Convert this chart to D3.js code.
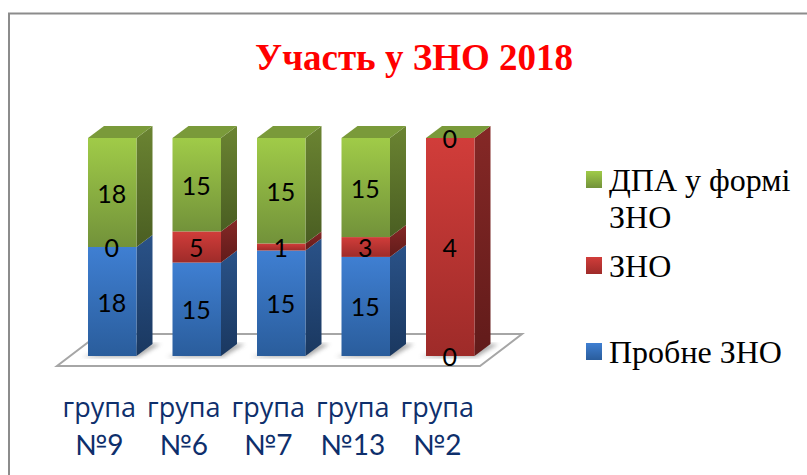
<!DOCTYPE html>
<html><head><meta charset="utf-8">
<script src="https://cdn.jsdelivr.net/npm/d3@7"></script>
<style>html,body{margin:0;padding:0;background:#fff}svg{display:block}</style>
</head><body><div id="chart"></div>
<script>
const groups = ["група №9","група №6","група №7","група №13","група №2"];
const probne = [18,15,15,15,0];
const zno = [0,5,1,3,4];
const dpa = [18,15,15,15,0];
const seriesNames = ["Пробне ЗНО","ЗНО","ДПА у формі ЗНО"];
const titleText = "Участь у ЗНО 2018";
const palette = [
  {front:["#3f7fd2","#2a5d9c"],side:["#2a5288","#1a3860"],top:"#35659f"},
  {front:["#d13d3a","#9e2b29"],side:["#852826","#611b1a"],top:"#a83230"},
  {front:["#a0cb48","#72923a"],side:["#6b8432","#4a5e22"],top:"#7a9a3a"}
];
const W=807,H=475,dx=16,dy=-12;
const svg=d3.select("#chart").append("svg").attr("width",W).attr("height",H);
const defs=svg.append("defs");
palette.forEach((p,i)=>{
  [["front",p.front],["side",p.side]].forEach(([k,c])=>{
    const g=defs.append("linearGradient").attr("id",k+i).attr("x1",0).attr("x2",0).attr("y1",0).attr("y2",1);
    g.append("stop").attr("offset",0).attr("stop-color",c[0]);
    g.append("stop").attr("offset",1).attr("stop-color",c[1]);
  });
});
defs.append("filter").attr("id","blur").append("feGaussianBlur").attr("stdDeviation",2);

svg.append("rect").attr("x",9).attr("y",13.5).attr("width",W+20).attr("height",H+20)
  .attr("fill","#fff").attr("stroke","#8c8c8c").attr("stroke-width",2);

svg.append("text").attr("x",414).attr("y",70).attr("text-anchor","middle")
  .attr("font-family","'Liberation Serif',serif").attr("font-weight","bold")
  .attr("font-size",37).attr("fill","#ff0000").text(titleText);

const x=d3.scaleBand().domain(groups).range([70,492.5]).paddingInner(0.426).paddingOuter(0.213);
const y=d3.scaleLinear().domain([0,1]).range([356,138]);
const line=d3.line();

svg.append("path").attr("d",line([[57,366],[480,366],[522,334],[99,334]])+"Z")
  .attr("fill","#fff").attr("stroke","#a6a6a6").attr("stroke-width",2);

const rows=groups.map((g,i)=>{
  const vals=[probne[i],zno[i],dpa[i]];
  const total=d3.sum(vals);let c=0;
  return {g,segs:vals.map((v,s)=>{const a=c/total;c+=v;return {s,v,a,b:c/total};})};
});

svg.append("g").selectAll("path").data(rows).join("path")
  .attr("filter","url(#blur)").attr("fill","#8f8f8f").attr("opacity",0.75)
  .attr("d",d=>{const l=x(d.g),r=l+x.bandwidth(),b=y(0);
    return line([[l-6,b+1],[r+2,b+1],[r+dx+8,b+dy],[r,b+dy]])+"Z";});

const bars=svg.append("g").selectAll("g").data(rows).join("g");
bars.each(function(d){
  const sel=d3.select(this),l=x(d.g),r=l+x.bandwidth();
  const segs=d.segs.filter(s=>s.v>0);
  segs.forEach(s=>{
    const yb=y(s.a),yt=y(s.b);
    sel.append("path").attr("fill",`url(#side${s.s})`)
      .attr("d",line([[r,yb],[r+dx,yb+dy],[r+dx,yt+dy],[r,yt]])+"Z");
    sel.append("rect").attr("x",l).attr("y",yt).attr("width",r-l).attr("height",yb-yt)
      .attr("fill",`url(#front${s.s})`);
  });
  sel.append("path").attr("fill",palette[2].top)
    .attr("d",line([[l,y(1)],[r,y(1)],[r+dx,y(1)+dy],[l+dx,y(1)+dy]])+"Z");
});

const lab=svg.append("g").attr("font-family","Lato,'Open Sans',sans-serif").attr("font-size",25).attr("fill","#000").attr("text-anchor","middle");
rows.forEach(d=>{
  const cx=x(d.g)+x.bandwidth()/2-0.5;
  d.segs.forEach(s=>{
    lab.append("text").attr("x",cx).attr("y",y((s.a+s.b)/2)+10).text(s.v);
  });
});

const cat=svg.append("g").attr("fill","#0e2f6c").attr("text-anchor","middle");
groups.forEach(g=>{
  const parts=g.split(" "),cx=x(g)+x.bandwidth()/2-13;
  cat.append("text").attr("x",cx).attr("y",417).attr("font-family","'Open Sans',sans-serif").attr("font-size",27).text(parts[0]);
  cat.append("text").attr("x",cx).attr("y",455).attr("font-family","Lato,'Open Sans',sans-serif").attr("font-size",28).text(parts[1]);
});

const legend=[
  {s:2,y:171,lines:["ДПА у формі","ЗНО"]},
  {s:1,y:257,lines:["ЗНО"]},
  {s:0,y:343,lines:["Пробне ЗНО"]}
];
legend.forEach(e=>{
  svg.append("rect").attr("x",586).attr("y",e.y).attr("width",16).attr("height",17).attr("fill",`url(#front${e.s})`);
  e.lines.forEach((t,i)=>svg.append("text").attr("x",609).attr("y",e.y+20+i*37)
    .attr("font-family","'Liberation Serif',serif").attr("font-size",32).attr("fill","#000")
    .text(e.s===2?t:seriesNames[e.s]));
});
</script></body></html>
